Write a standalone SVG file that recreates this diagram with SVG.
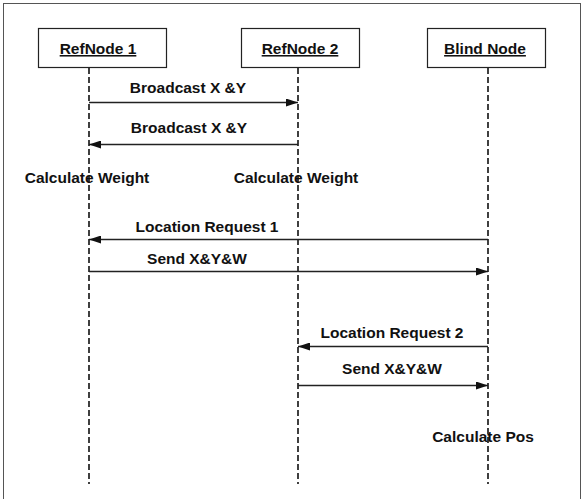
<svg xmlns="http://www.w3.org/2000/svg" width="584" height="499" viewBox="0 0 584 499">
<defs>
<style>
.frame{fill:#fff;stroke:#555;stroke-width:1}
.box{fill:#fff;stroke:#222;stroke-width:1.2}
.life{stroke:#111;stroke-width:1.6;stroke-dasharray:6 3;fill:none}
.msg{stroke:#222;stroke-width:1.3;fill:none}
text{font-family:"Liberation Sans",Arial,sans-serif;font-weight:bold;font-size:15.5px;fill:#111;text-anchor:middle}
.u{text-decoration:underline}
</style>
<marker id="ah" viewBox="0 0 12 8" refX="12" refY="4" markerWidth="12" markerHeight="8" markerUnits="userSpaceOnUse" orient="auto">
<path d="M0,0 L12,4 L0,8 Z" fill="#111"/>
</marker>
</defs>
<rect class="frame" x="3.5" y="3.5" width="577" height="505"/>
<g id="lifelines">
<line class="life" x1="89" y1="68" x2="89" y2="484"/>
<line class="life" x1="298" y1="68" x2="298" y2="484"/>
<line class="life" x1="488" y1="68" x2="488" y2="484"/>
</g>
<g id="node-refnode1">
<rect class="box" x="38.5" y="28.5" width="128" height="39"/>
<text class="u" x="98" y="54">RefNode 1</text>
</g>
<g id="node-refnode2">
<rect class="box" x="241.5" y="28.5" width="118" height="39"/>
<text class="u" x="300" y="54">RefNode 2</text>
</g>
<g id="node-blind">
<rect class="box" x="427.5" y="28.5" width="118" height="39"/>
<text class="u" x="485" y="54">Blind Node</text>
</g>
<g id="connectors">
<line class="msg" x1="89" y1="102.5" x2="298" y2="102.5" marker-end="url(#ah)"/>
<line class="msg" x1="298" y1="144.5" x2="89" y2="144.5" marker-end="url(#ah)"/>
<line class="msg" x1="488" y1="239.5" x2="89" y2="239.5" marker-end="url(#ah)"/>
<line class="msg" x1="89" y1="271.5" x2="488" y2="271.5" marker-end="url(#ah)"/>
<line class="msg" x1="488" y1="346.5" x2="298" y2="346.5" marker-end="url(#ah)"/>
<line class="msg" x1="298" y1="385.5" x2="488" y2="385.5" marker-end="url(#ah)"/>
</g>
<g id="labels">
<text x="188" y="93">Broadcast X &amp;Y</text>
<text x="189" y="133">Broadcast X &amp;Y</text>
<text x="87" y="183">Calculate Weight</text>
<text x="296" y="183">Calculate Weight</text>
<text x="207" y="232">Location Request 1</text>
<text x="197" y="264">Send X&amp;Y&amp;W</text>
<text x="392" y="338">Location Request 2</text>
<text x="392" y="374">Send X&amp;Y&amp;W</text>
<text x="483" y="442">Calculate Pos</text>
</g>
</svg>
